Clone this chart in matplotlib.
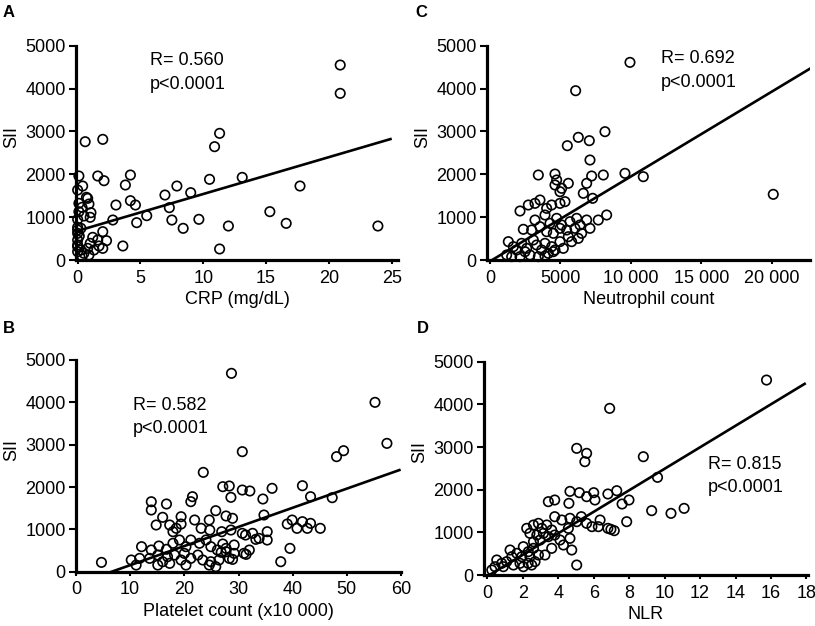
import matplotlib
matplotlib.use('Agg')
import matplotlib.pyplot as plt
import numpy as np

plt.rcParams['font.family'] = ['Liberation Sans', 'DejaVu Sans']

# ---------------- data ----------------
# Panel A: CRP vs SII
crp_x = [20.9, 20.9, 11.3, 10.9, 0.6, 2.0, 0.1, 1.6, 2.1, 4.2, 3.8, 0.0, 0.4, 0.8, 3.05, 4.2, 4.6, 5.5, 4.7, 2.8,
         2.0, 2.3, 2.0, 3.6, 6.95, 7.9, 7.3, 7.5, 8.4, 9.0, 9.65, 10.5, 11.3, 12.0, 13.1, 15.3, 16.6, 17.7, 23.9,
         0.7, 0.1, 0.35, 0.1, 0.9, 1.06, 1.0, 0.5, 0.0, 0.0, 0.26,
         0.0, 0.0, 0.0, 0.13, 0.0, 0.26, 0.0, 0.5, 0.9, 0.35, 1.2, 1.0, 1.6, 1.7, 1.3, 0.8, 0.0]
crp_sii = [4549, 3888, 2955, 2644, 2760, 2815, 1960, 1960, 1850, 1983, 1750, 1633, 1726, 1438, 1283, 1384, 1283, 1034, 871, 933,
           661, 451, 272, 327, 1516, 1726, 1221, 933, 739, 1571, 949, 1882, 257, 793, 1928, 1128, 855, 1726, 793,
           1463, 1322, 1229, 1127, 1306, 1104, 996, 1027, 949, 763, 740,
           622, 467, 350, 560, 311, 233, 194, 156, 117, 93, 529, 389, 467, 327, 233, 272, 700]

# Panel C: neutrophil count vs SII
neu_x = [9929, 6075, 8156, 6264, 7045, 5484, 9574, 10875, 20094,
         3428, 4610, 4728, 4610, 5082, 5556, 4964, 7092, 7210, 8038, 6856, 6619, 7281,
         2128, 2719, 3191, 3546, 4019, 4373, 4964, 5319, 3191, 3900, 4255, 4728, 5082, 5674,
         6147, 6383, 6856, 7092, 7681, 8274, 2364, 2955, 3546, 4019, 4492, 4964, 5437, 5556,
         6028, 6501, 6265, 5792, 1300, 1655, 1891, 2246, 2601, 3074, 3310, 3664, 3900, 4373,
         4137, 4610, 4964, 5201, 1182, 1537, 2128, 2482, 2837, 3428, 3900, 4492]
neu_sii = [4611, 3950, 2994, 2862, 2784, 2667, 2022, 1944, 1532,
           1983, 2006, 1867, 1750, 1672, 1789, 1594, 2333, 1960, 1983, 1789, 1556, 1439,
           1143, 1283, 1322, 1400, 1205, 1283, 1322, 1361, 933, 1050, 856, 972, 817, 894,
           972, 817, 933, 739, 933, 1050, 716, 700, 777, 661, 622, 739, 700, 544,
           739, 622, 505, 428, 428, 311, 233, 389, 272, 467, 350, 233, 389, 311,
           155, 233, 428, 272, 117, 78, 78, 194, 117, 78, 93, 194]

# Panel B: platelet count vs SII
plt_x = [4.7, 28.7, 55.2, 57.4, 48.1, 49.4, 41.8, 43.3, 47.3, 39.0, 39.9, 40.8, 41.8, 42.7, 43.3, 45.1, 39.5, 37.8,
         30.7, 23.5, 27.1, 28.3, 28.6, 30.7, 32.1, 34.5, 34.7, 21.2, 21.5, 17.9, 19.4, 24.7, 26.9, 28.6, 30.7,
         35.3, 33.2, 31.4, 28.9, 27.7, 26.8,
         13.9, 13.9, 16.7, 16.0, 14.8, 17.3, 18.5, 19.4, 21.9, 23.1, 24.6, 25.8, 27.7, 28.9,
         12.1, 13.9, 15.3, 16.7, 17.9, 19.1, 20.3, 21.2, 22.8, 24.0, 24.9, 26.1, 27.1, 27.7, 29.2,
         10.2, 11.75, 13.6, 15.1, 16.0, 16.9, 18.2, 19.4, 20.0, 21.2, 22.5, 23.4, 24.9, 26.4, 28.3, 29.2, 31.0, 32.0,
         11.1, 15.1, 17.3, 20.3, 24.6, 25.8, 31.3, 32.6, 33.8, 35.3, 36.2]
plt_sii = [220, 4685, 4000, 3031, 2717, 2858, 2031, 1772, 1748, 1126, 1220, 1024, 1181, 1024, 1142, 1024, 551, 236,
           2835, 2346, 2008, 2024, 1756, 1929, 1906, 1717, 1339, 1654, 1772, 945, 1126, 984, 945, 984, 906,
           748, 764, 409, 291, 551, 457,
           1653, 1457, 1599, 1285, 1103, 1103, 1025, 1299, 1221, 1025, 1221, 1441, 1316, 1261,
           591, 513, 607, 529, 671, 749, 591, 749, 671, 749, 591, 513, 654, 472, 631,
           276, 315, 315, 394, 236, 354, 394, 276, 433, 315, 394, 276, 236, 276, 315, 433, 433, 512,
           157, 157, 197, 157, 157, 118, 866, 906, 787, 945, 1969]

# Panel D: NLR vs SII
nlr_x = [15.75, 6.9, 8.8, 9.6, 7.3, 7.6, 7.99, 9.27, 10.36, 11.1, 7.86, 6.97, 7.16,
         5.04, 5.6, 5.5, 3.44, 3.8, 4.66, 5.19, 5.6, 6.0, 6.07, 6.8, 4.6,
         3.8, 4.2, 4.66, 5.04, 5.3, 5.6, 5.9, 6.26, 6.36, 6.8, 4.57,
         2.22, 2.6, 2.88, 3.07, 3.35, 3.63, 2.4, 2.79, 3.16, 3.44, 3.8, 4.1, 2.97, 2.6,
         4.66, 4.76, 5.04, 4.29, 3.63, 3.25,
         1.28, 1.66, 2.03, 2.31, 2.6, 1.94, 2.4, 2.88, 2.3, 1.38,
         0.53, 0.81, 1.09, 0.43, 0.9, 1.47, 1.84, 2.03, 2.5, 2.69, 0.25]
nlr_sii = [4570, 3906, 2773, 2289, 1976, 1664, 1758, 1508, 1445, 1562, 1250, 1070, 1039,
           2969, 2852, 2656, 1719, 1758, 1960, 1930, 1836, 1930, 1758, 1899, 1680,
           1367, 1289, 1329, 1250, 1367, 1211, 1133, 1133, 1289, 1094, 1094,
           1094, 1172, 1211, 1094, 1172, 1055, 977, 937, 977, 898, 937, 820, 820, 781,
           859, 586, 234, 703, 625, 469,
           586, 508, 664, 547, 625, 430, 430, 469, 274, 430,
           352, 274, 313, 195, 195, 234, 274, 195, 234, 313, 117]

# regression fits (intercept, slope) and x-extent of the drawn line
fit_intercepts = [680, -298, -30, -30]
fit_slopes = [86, 45.2, 0.198, 252]
fit_x_start = [0.1, 0.0, 0.0, 0.0]
fit_x_end = [24.9, 59.7, 22850, 17.9]

r_values = ['R= 0.560', 'R= 0.582', 'R= 0.692', 'R= 0.815']
p_text = 'p<0.0001'
panel_letters = ['A', 'B', 'C', 'D']
x_labels = ['CRP (mg/dL)', 'Platelet count (x10 000)', 'Neutrophil count', 'NLR']
y_label = 'SII'
y_ticks = [0, 1000, 2000, 3000, 4000, 5000]
x_ticks = [[0, 5, 10, 15, 20, 25],
           [0, 10, 20, 30, 40, 50, 60],
           [0, 5000, 10000, 15000, 20000],
           [0, 2, 4, 6, 8, 10, 12, 14, 16, 18]]
x_tick_labels = [['0', '5', '10', '15', '20', '25'],
                 ['0', '10', '20', '30', '40', '50', '60'],
                 ['0', '5000', '10 000', '15 000', '20 000'],
                 ['0', '2', '4', '6', '8', '10', '12', '14', '16', '18']]

xs_all = [crp_x, plt_x, neu_x, nlr_x]
ys_all = [crp_sii, plt_sii, neu_sii, nlr_sii]

# ---------------- layout ----------------
W, H = 815, 626
fig = plt.figure(figsize=(W / 100, H / 100), dpi=100)

# axes boxes in pixels: left, right, top, bottom
boxes = [(76, 398, 45.7, 260), (76, 401, 360, 571.7), (487, 810, 45.7, 260), (484, 808, 361.7, 575)]
xlims = [(-0.13, 25.5), (0, 60), (-213, 22700), (-0.19, 18.09)]
text_pos = [(0.23, 0.91, 0.80), (0.176, 0.764, 0.654), (0.538, 0.918, 0.806), (0.691, 0.497, 0.388)]
letter_pos = [(3, 17), (3, 333), (415, 17), (417, 333)]

FS = 13
for i in range(4):
    l, r, t, b = boxes[i]
    ax = fig.add_axes([l / W, 1 - b / H, (r - l) / W, (b - t) / H])
    ax.scatter(xs_all[i], ys_all[i], s=46, facecolors='none', edgecolors='black',
               linewidths=1.2, clip_on=False, zorder=3)
    lx = np.array([fit_x_start[i], fit_x_end[i]])
    ax.plot(lx, fit_intercepts[i] + fit_slopes[i] * lx, color='black', lw=1.9, zorder=4)
    ax.set_xlim(*xlims[i])
    ax.set_ylim(0, 5000)
    ax.set_yticks(y_ticks)
    ax.set_xticks(x_ticks[i])
    ax.set_xticklabels(x_tick_labels[i])
    for s in ['top', 'right']:
        ax.spines[s].set_visible(False)
    for s in ['left', 'bottom']:
        ax.spines[s].set_linewidth(2.3)
    ax.tick_params(axis='y', length=5, width=1.5, labelsize=FS, pad=2.5)
    ax.tick_params(axis='x', length=3, width=1.5, labelsize=FS, pad=4)
    ax.set_xlabel(x_labels[i], fontsize=FS, labelpad=3)
    ax.set_ylabel(y_label, fontsize=FS)
    ax.yaxis.set_label_coords(-0.172, 0.575)
    tx, ty1, ty2 = text_pos[i]
    ax.text(tx, ty1, r_values[i], transform=ax.transAxes, fontsize=FS, va='baseline', ha='left')
    ax.text(tx, ty2, p_text, transform=ax.transAxes, fontsize=FS, va='baseline', ha='left')
    lx_, ly_ = letter_pos[i]
    fig.text(lx_ / W, 1 - ly_ / H, panel_letters[i], fontsize=12, fontweight='bold',
             va='baseline', ha='left')

fig.savefig('out.png', dpi=100)
